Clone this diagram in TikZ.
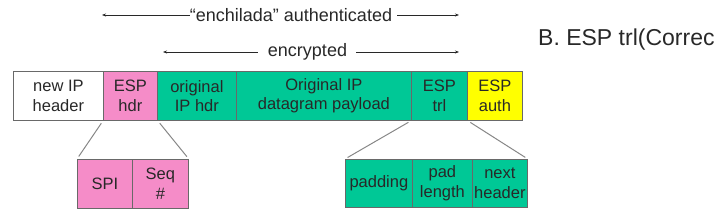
\documentclass[tikz,border=0pt]{standalone}
\usepackage{fontspec}
\setmainfont{Liberation Sans}
\usetikzlibrary{arrows.meta}
\definecolor{pinkc}{RGB}{245,140,200}
\definecolor{greenc}{RGB}{0,200,150}
\definecolor{yellowc}{RGB}{255,255,0}
\definecolor{edgec}{RGB}{105,105,105}
\definecolor{txtc}{RGB}{40,40,40}
\begin{document}
\begin{tikzpicture}[x=1pt,y=-1pt,
  field/.style={draw=edgec, line width=0.8pt, inner sep=0pt, align=center,
    font=\fontsize{16.5}{19.5}\selectfont, text=txtc, anchor=north west},
  toplabel/.style={inner sep=0pt, font=\fontsize{18}{20}\selectfont, text=txtc},
  arr/.style={draw=txtc, line width=0.6pt, -{Stealth[length=4pt,width=3pt]}},
  link/.style={draw=edgec!80, line width=1pt, shorten <=3pt, shorten >=3pt}]
\useasboundingbox (0,0) rectangle (714,217);
\clip (0,0) rectangle (714,217);
% main row
\node[field, fill=white,  minimum width=90,  minimum height=49] (newip)   at (13,71)  {new IP\\header};
\node[field, fill=pinkc,  minimum width=54,  minimum height=49] (esphdr)  at (103,71) {ESP\\hdr};
\node[field, fill=greenc, minimum width=79,  minimum height=49] (origip)  at (157,71) {original\\IP hdr};
\node[field, fill=greenc, minimum width=175, minimum height=49] (payload) at (236,71) {Original IP\\datagram payload};
\node[field, fill=greenc, minimum width=56,  minimum height=49] (esptrl)  at (411,71) {ESP\\trl};
\node[field, fill=yellowc,minimum width=55,  minimum height=49] (espauth) at (467,71) {ESP\\auth};
% lower rows
\node[field, fill=pinkc,  minimum width=55, minimum height=49] (spi) at (77,159)  {SPI};
\node[field, fill=pinkc,  minimum width=56, minimum height=49] (seq) at (132,159) {Seq\\\#};
\node[field, fill=greenc, minimum width=67, minimum height=48] (pad) at (345,159) {padding};
\node[field, fill=greenc, minimum width=60, minimum height=48] (padlen) at (412,159) {pad\\length};
\node[field, fill=greenc, minimum width=55, minimum height=48] (nexth) at (472,159) {next\\header};
% links
\draw[link] (esphdr.south west) -- (spi.north west);
\draw[link] (esphdr.south east) -- (seq.north east);
\draw[link] (esptrl.south west) -- (pad.north west);
\draw[link] (esptrl.south east) -- (nexth.north east);
% top labels
\node[toplabel] (auth) at (291,15) {“enchilada” authenticated};
\coordinate (authL) at (102,15);
\coordinate (authR) at (459,15);
\draw[arr] (auth.west) -- (authL);
\draw[arr] ([xshift=5pt]auth.east) -- (authR);
\node[toplabel] (enc) at (307.5,52) {encrypted};
\coordinate (encL) at (163,52);
\coordinate (encR) at (459,52);
\draw[arr] ([xshift=-10pt]enc.west) -- (encL);
\draw[arr] ([xshift=9pt]enc.east) -- (encR);
% side text
\node[anchor=base west, inner sep=0pt, font=\fontsize{23}{25}\selectfont, text=txtc] (btxt) at (538,45) {B. ESP trl(Correc};
\end{tikzpicture}
\end{document}
